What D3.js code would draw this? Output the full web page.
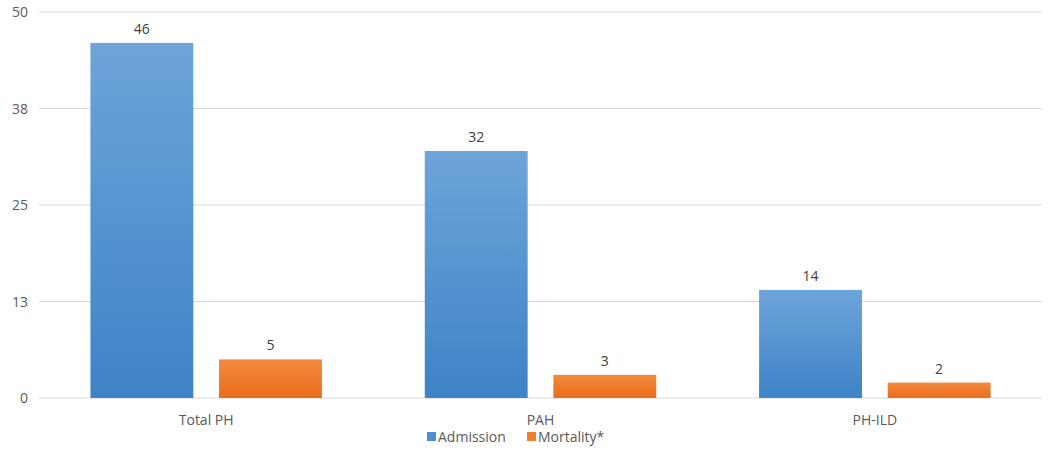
<!DOCTYPE html>
<html>
<head>
<meta charset="utf-8">
<script src="https://cdn.jsdelivr.net/npm/d3@7"></script>
<style>
  body { margin: 0; background: #fff; }
  text { font-family: "Open Sans", "Noto Sans", sans-serif; fill: #595959; }
</style>
</head>
<body>
<svg id="chart" width="1050" height="453"></svg>
<script>
const categories = ["Total PH", "PAH", "PH-ILD"];
const admission = [46, 32, 14];
const mortality = [5, 3, 2];
const seriesNames = ["Admission", "Mortality*"];
const tickValues = [0, 12.5, 25, 37.5, 50];
const tickLabels = ["0", "13", "25", "38", "50"];

const svg = d3.select("#chart");
const plotLeft = 39, plotRight = 1042, plotTop = 12, plotBottom = 398;

const x = d3.scaleBand().domain(categories).range([plotLeft, plotRight]).paddingInner(0).paddingOuter(0);
const x1 = d3.scaleBand().domain(seriesNames).range([0, x.bandwidth()]).paddingInner(0.2).paddingOuter(0.4);
const y = d3.scaleLinear().domain([0, 50]).range([plotBottom, plotTop]);

// gradients
const defs = svg.append("defs");
const grads = [["gBlue", "#6ea4da", "#3d83c6"], ["gOrange", "#f38a3c", "#e96d1c"]];
grads.forEach(g => {
    const lg = defs.append("linearGradient").attr("id", g[0]).attr("x1", 0).attr("y1", 0).attr("x2", 0).attr("y2", 1);
    lg.append("stop").attr("offset", "0%").attr("stop-color", g[1]);
    lg.append("stop").attr("offset", "100%").attr("stop-color", g[2]);
});

// gridlines
svg.append("g")
    .selectAll("line")
    .data(tickValues)
    .join("line")
    .attr("x1", plotLeft).attr("x2", plotRight)
    .attr("y1", d => y(d)).attr("y2", d => y(d))
    .attr("stroke", "#d9d9d9").attr("stroke-width", 1);

// y labels
svg.append("g")
    .selectAll("text")
    .data(tickValues)
    .join("text")
    .attr("x", 28)
    .attr("y", d => y(d) + 5)
    .attr("text-anchor", "end")
    .attr("font-size", 14)
    .text((d, i) => tickLabels[i]);

const data = categories.map((c, i) => ({cat: c, vals: [admission[i], mortality[i]]}));
const fills = ["url(#gBlue)", "url(#gOrange)"];

const groups = svg.append("g")
    .selectAll("g")
    .data(data)
    .join("g")
    .attr("transform", d => `translate(${x(d.cat)},0)`);

groups.selectAll("rect")
    .data(d => d.vals.map((v, i) => ({name: seriesNames[i], v: v, i: i})))
    .join("rect")
    .attr("x", d => x1(d.name))
    .attr("width", x1.bandwidth())
    .attr("y", d => y(d.v))
    .attr("height", d => y(0) - y(d.v))
    .attr("fill", (d) => fills[d.i]);

groups.selectAll("text.val")
    .data(d => d.vals.map((v, i) => ({name: seriesNames[i], v: v, i: i})))
    .join("text")
    .attr("class", "val")
    .attr("x", d => x1(d.name) + x1.bandwidth() / 2)
    .attr("y", d => y(d.v) - 9)
    .attr("text-anchor", "middle")
    .attr("font-size", 14)
    .style("fill", "#404040")
    .text(d => d.v);

// x labels
svg.append("g")
    .selectAll("text")
    .data(categories)
    .join("text")
    .attr("x", d => x(d) + x.bandwidth() / 2)
    .attr("y", 425)
    .attr("text-anchor", "middle")
    .attr("font-size", 14)
    .text(d => d);

// legend
const legX = [427, 527];
const leg = svg.append("g")
    .selectAll("g")
    .data(seriesNames)
    .join("g")
    .attr("transform", (d, i) => `translate(${legX[i]},431)`);
leg.append("rect").attr("width", 9).attr("height", 9).attr("y", 1)
    .attr("fill", (d, i) => i === 0 ? "#4a8fd3" : "#f07f2e");
leg.append("text").attr("x", 11).attr("y", 11).attr("font-size", 14).text(d => d);
</script>
</body>
</html>
